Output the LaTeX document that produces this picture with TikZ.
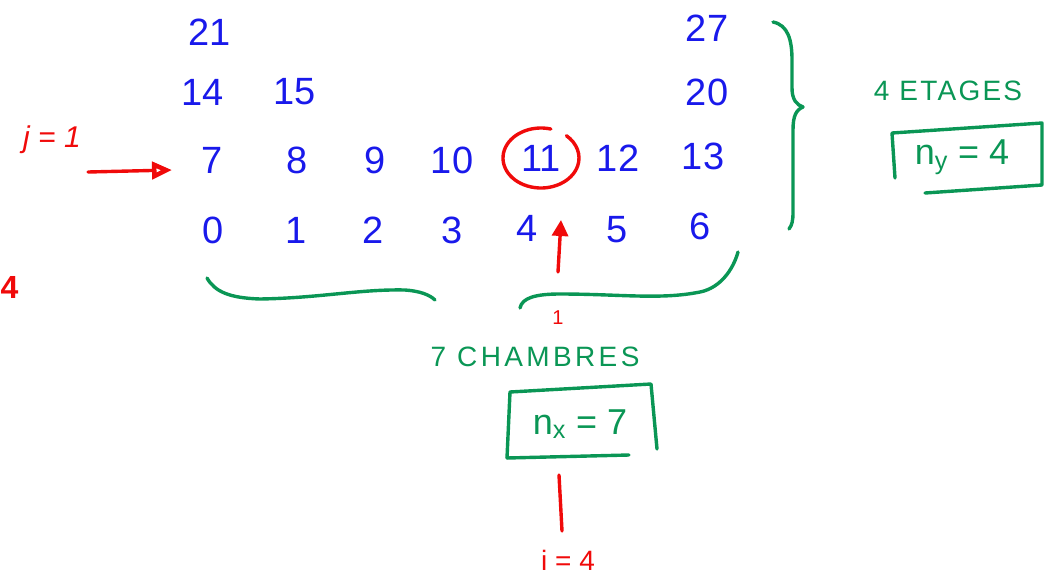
\documentclass[tikz,border=0pt]{standalone}
\usepackage{fontspec}
\setsansfont{Liberation Sans}
\usetikzlibrary{arrows.meta}
\definecolor{hblue}{RGB}{25,25,235}
\definecolor{hgreen}{RGB}{10,150,85}
\definecolor{hred}{RGB}{240,10,10}
\tikzset{
  num/.style={text=hblue, font=\sffamily\fontsize{38}{40}\selectfont, inner sep=0pt},
  glabel/.style={text=hgreen, font=\sffamily\fontsize{28}{30}\selectfont\addfontfeature{LetterSpace=8}, inner sep=0pt},
  gbox/.style={text=hgreen, font=\sffamily\fontsize{36}{38}\selectfont, inner sep=0pt},
  rlabel/.style={text=hred, font=\sffamily\fontsize{28}{30}\selectfont, inner sep=0pt},
  gline/.style={draw=hgreen, line width=3.4pt, line cap=round, line join=round},
  rline/.style={draw=hred, line width=3.4pt, line cap=round, line join=round},
}
\begin{document}
\begin{tikzpicture}[x=1pt,y=-1pt]
\useasboundingbox (0,0) rectangle (1049,576);
% grid of numbers
\node[num] (n21) at (210,32) {21};
\node[num] (n27) at (707,28) {27};
\node[num] (n14) at (203,92) {14};
\node[num] (n15) at (295,92) {15};
\node[num] (n20) at (707,92) {20};
\node[num] (n7)  at (212,160) {7};
\node[num] (n8)  at (297,160) {8};
\node[num] (n9)  at (375,160) {9};
\node[num] (n10) at (452,160) {10};
\node[num] (n11) at (541,158) {11};
\node[num] (n12) at (618,158) {12};
\node[num] (n13) at (703,156) {13};
\node[num] (n0)  at (213,230) {0};
\node[num] (n1)  at (296,230) {1};
\node[num] (n2)  at (373,230) {2};
\node[num] (n3)  at (452,230) {3};
\node[num] (n4)  at (527,228) {4};
\node[num] (n5)  at (617,230) {5};
\node[num] (n6)  at (700,226) {6};
% red circle around 11
\draw[rline] ([shift={(-75:38 and 30)}]n11.center) arc[start angle=-75, end angle=-408, x radius=38, y radius=30];
% j = 1 and arrow
\node[rlabel, font=\sffamily\itshape\fontsize{30}{32}\selectfont] (jlab) at (52,140) {j = 1};
\coordinate (ja) at (88,172);
\coordinate (jb) at (172,170);
\draw[rline, -{Triangle[open, length=20pt, width=17pt, line width=4.5pt]}] (ja) -- (jb);
% bold 4 at the left edge
\node[text=hred, font=\sffamily\bfseries\fontsize{32}{34}\selectfont, inner sep=0pt, anchor=west] (four) at (0.5,287) {4};
% red up arrow and 1
\coordinate (ia) at (558,272);
\coordinate (ib) at (561,220);
\draw[rline, -{Triangle[length=16pt, width=16pt]}] (ia) -- (ib);
\node[rlabel, font=\sffamily\fontsize{20}{22}\selectfont] (one) at (558,318) {1};
% right brace
\draw[gline] (773,22) .. controls (788,25) and (792,40) .. (792,60) -- (792,88)
  .. controls (792,100) and (797,105) .. (803,107)
  .. controls (796,110) and (793,116) .. (793,130) -- (793,212)
  .. controls (793,221) and (792,225) .. (789,229);
\node[glabel] (etages) at (948,91) {4 ETAGES};
\node[gbox] (ny) at (962,157) {n\textsubscript{y} = 4};
\draw[gline] (895,178) -- (892,133) -- (1042,123) -- (1042,185) -- (925,193);
% bottom brace
\draw[gline] (207,278) .. controls (215,292) and (230,298) .. (260,299)
  .. controls (320,298) and (360,289) .. (405,290)
  .. controls (420,291) and (430,295) .. (435,300);
\draw[gline] (520,308) .. controls (522,298) and (535,294) .. (560,294)
  .. controls (620,294) and (660,300) .. (700,292)
  .. controls (720,288) and (733,270) .. (738,252);
\node[glabel, font=\sffamily\fontsize{28}{30}\selectfont\addfontfeature{LetterSpace=12}] (chambres) at (535,357) {7 CHAMBRES};
\node[gbox] (nx) at (580,424) {n\textsubscript{x} = 7};
\draw[gline] (507,458) -- (510,392) -- (651,384) -- (657,449);
\draw[gline] (507,458) -- (629,455);
% red line and i = 4
\coordinate (ic) at (559,475);
\coordinate (id) at (562,531);
\draw[rline] (ic) -- (id);
\node[rlabel] (ilab) at (568,560) {i = 4};
\end{tikzpicture}
\end{document}
